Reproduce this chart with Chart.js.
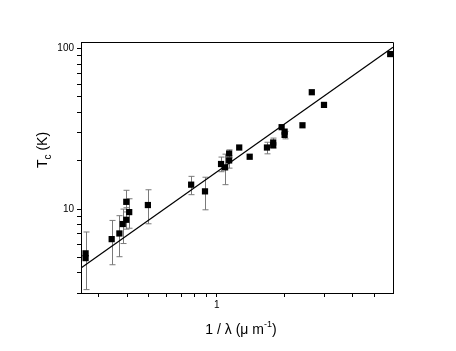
<!DOCTYPE html>
<html>
<head>
<meta charset="utf-8">
<script src="https://cdn.jsdelivr.net/npm/chart.js@4/dist/chart.umd.min.js"></script>
<style>
  html, body { margin: 0; padding: 0; background: #fff; }
  #wrap { width: 456px; height: 351px; }
</style>
</head>
<body>
<div id="wrap"><canvas id="myChart" width="456" height="351"></canvas></div>
<script>
// 1/lambda (um^-1) and Tc (K)
const invLambda = [0.262, 0.262, 0.342, 0.370, 0.383, 0.397, 0.397, 0.409, 0.495, 0.77, 0.887,
  1.045, 1.089, 1.135, 1.135, 1.258, 1.40, 1.67, 1.78, 1.78, 1.94, 2.0, 2.0, 2.40, 2.64, 2.99, 5.88];
const tc = [5.3, 4.95, 6.5, 7.05, 8.07, 8.58, 11.1, 9.58, 10.6, 14.2, 12.9,
  19.1, 18.2, 22.2, 20.1, 24.2, 21.2, 24.2, 26.0, 25.0, 32.4, 30.4, 29.0, 33.3, 53.5, 44.6, 92.5];
// error bar ends (null = no bar)
const tcHigh = [7.2, null, 8.5, 9.1, 10.0, 10.2, 13.1, 11.6, 13.2, 16.0, 15.8,
  21.1, 22.0, 23.4, 21.5, null, null, 26.1, 27.7, null, null, null, 30.5, null, null, null, null];
const tcLow = [3.15, null, 4.5, 5.05, 6.1, 7.5, 9.6, 7.6, 8.1, 12.3, 9.9,
  17.1, 14.2, 21.0, 18.0, null, null, 22.1, 24.0, null, null, null, 27.4, null, null, null, null];

// fitted line
const fitX = [0.25, 6.05];
const fitY = [4.3, 102];

const xTicks = [0.3, 0.4, 0.5, 0.6, 0.7, 0.8, 0.9, 1, 2, 3, 4, 5];
const yTicks = [3, 4, 5, 6, 7, 8, 9, 10, 20, 30, 40, 50, 60, 70, 80, 90, 100];
const xLabels = [1];
const yLabels = [10, 100];

const fontFamily = 'Liberation Sans, Arial, sans-serif';

const tcPoints = invLambda.map((x, i) => ({ x: x, y: tc[i] }));
const fitPoints = fitX.map((x, i) => ({ x: x, y: fitY[i] }));

const errorBarsPlugin = {
  id: 'errorBars',
  beforeDatasetsDraw(chart) {
    const c = chart.ctx;
    const xs = chart.scales.x, ys = chart.scales.y;
    c.save();
    c.strokeStyle = '#7a7a7a';
    c.lineWidth = 1;
    invLambda.forEach((v, i) => {
      if (tcHigh[i] == null) return;
      const px = Math.round(xs.getPixelForValue(v)) + 0.5;
      const y1 = ys.getPixelForValue(tcHigh[i]);
      const y2 = ys.getPixelForValue(tcLow[i]);
      c.beginPath();
      c.moveTo(px, y1); c.lineTo(px, y2);
      c.moveTo(px - 3, y1); c.lineTo(px + 3, y1);
      c.moveTo(px - 3, y2); c.lineTo(px + 3, y2);
      c.stroke();
    });
    c.restore();
  }
};

const titlesPlugin = {
  id: 'boxTitles',
  afterDraw(chart) {
    const c = chart.ctx, a = chart.chartArea;
    c.save();
    c.strokeStyle = '#000';
    c.lineWidth = 1;
    c.beginPath();
    c.moveTo(Math.round(a.left) + 0.5, Math.round(a.top) + 0.5);
    c.lineTo(Math.round(a.right) + 0.5, Math.round(a.top) + 0.5);
    c.lineTo(Math.round(a.right) + 0.5, Math.round(a.bottom) + 0.5);
    c.stroke();

    c.fillStyle = '#000';
    c.textBaseline = 'alphabetic';
    c.textAlign = 'left';
    // x title
    c.font = '14px ' + fontFamily;
    const t1 = '1 / \u03bb (\u03bc m';
    const w1 = c.measureText(t1).width;
    c.font = '9px ' + fontFamily;
    const w2 = c.measureText('-1').width;
    c.font = '14px ' + fontFamily;
    const w3 = c.measureText(')').width;
    const x0 = (a.left + a.right) / 2 + 4 - (w1 + w2 + w3) / 2;
    const yb = 334;
    c.fillText(t1, x0, yb);
    c.font = '9px ' + fontFamily;
    c.fillText('-1', x0 + w1, yb - 7);
    c.font = '14px ' + fontFamily;
    c.fillText(')', x0 + w1 + w2, yb);
    c.restore();

    // y title
    c.save();
    c.fillStyle = '#000';
    c.textBaseline = 'alphabetic';
    c.textAlign = 'left';
    c.translate(47, 150);
    c.rotate(-Math.PI / 2);
    c.font = '14px ' + fontFamily;
    const a1 = c.measureText('T').width;
    const a3 = c.measureText(' (K)').width;
    c.font = '10px ' + fontFamily;
    const a2 = c.measureText('c').width;
    const sx = -(a1 + a2 + a3) / 2;
    c.font = '14px ' + fontFamily;
    c.fillText('T', sx, 0);
    c.fillText(' (K)', sx + a1 + a2, 0);
    c.font = '10px ' + fontFamily;
    c.fillText('c', sx + a1, 4);
    c.restore();
  }
};

const config = {
  type: 'scatter',
  data: {
    datasets: [
      {
        label: 'Tc',
        data: tcPoints,
        pointStyle: 'rect',
        pointRadius: 4.4,
        backgroundColor: '#000',
        borderWidth: 0
      },
      {
        label: 'fit',
        data: fitPoints,
        showLine: true,
        borderColor: '#000',
        borderWidth: 1.2,
        pointRadius: 0
      }
    ]
  },
  options: {
    responsive: false,
    animation: false,
    events: [],
    layout: { padding: { left: 0, top: 42, right: 63, bottom: 0 } },
    plugins: { legend: { display: false }, tooltip: { enabled: false } },
    scales: {
      x: {
        type: 'logarithmic',
        position: 'bottom',
        min: 0.25,
        max: 6.05,
        afterFit(s) { s.height = 58; },
        afterBuildTicks(s) { s.ticks = xTicks.map(v => ({ value: v })); },
        grid: { drawOnChartArea: false, tickLength: 4, color: '#000', tickColor: '#000' },
        border: { color: '#000' },
        ticks: {
          autoSkip: false,
          maxRotation: 0,
          padding: 2,
          color: '#000',
          font: { family: fontFamily, size: 10 },
          callback: v => xLabels.includes(v) ? String(v) : ''
        }
      },
      y: {
        type: 'logarithmic',
        position: 'left',
        min: 3,
        max: 110,
        afterFit(s) { s.width = 81; },
        afterBuildTicks(s) { s.ticks = yTicks.map(v => ({ value: v })); },
        grid: { drawOnChartArea: false, tickLength: 4, color: '#000', tickColor: '#000' },
        border: { color: '#000' },
        ticks: {
          autoSkip: false,
          padding: 3,
          color: '#000',
          font: { family: fontFamily, size: 10 },
          callback: v => yLabels.includes(v) ? String(v) : ''
        }
      }
    }
  },
  plugins: [errorBarsPlugin, titlesPlugin]
};

document.addEventListener('DOMContentLoaded', () => {
  const ctx = document.getElementById('myChart').getContext('2d');
  new Chart(ctx, config);
});
</script>
</body>
</html>
